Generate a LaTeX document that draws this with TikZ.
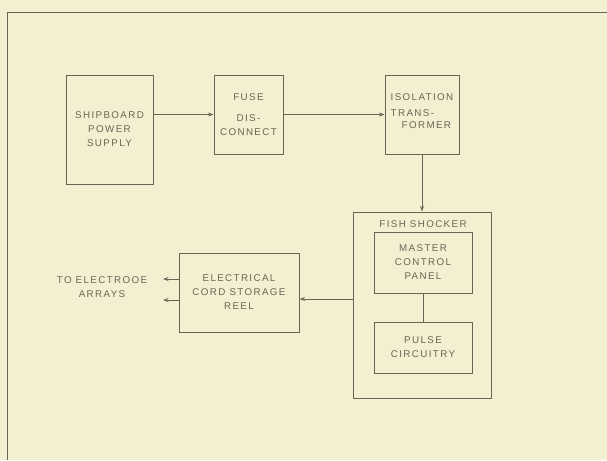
\documentclass[tikz,border=0pt]{standalone}
\usepackage{fontspec}
\setmainfont{Liberation Sans}[LetterSpace=14]
\usepackage{xcolor}
\usepackage{tikz}
\usetikzlibrary{
    arrows.meta,
    positioning,
    calc
}
\definecolor{paper}{HTML}{F3EFD1}
\definecolor{ink}{HTML}{676757}

\begin{document}
\begin{tikzpicture}[x=1pt,y=-1pt,
    blk/.style={draw=ink,line width=1pt,inner sep=0pt,align=center,
                text=ink,font=\fontsize{9.8}{14}\selectfont},
    lbl/.style={text=ink,align=center,inner sep=0pt,font=\fontsize{9.8}{14}\selectfont},
    wire/.style={draw=ink,line width=1pt},
    feed/.style={wire,-{Stealth[length=5.5pt,width=4pt]}}]
  % paper and frame
  \fill[paper] (0,0) rectangle (607,460);
  \useasboundingbox (0,0) rectangle (607,460);
  \draw[wire] (7,460) -- (7,13) -- (607,13);
  % top row
  \node[blk,minimum width=87pt,minimum height=109pt] (ship) at (109.5,129.5)
       {SHIPBOARD\\POWER\\SUPPLY};
  \node[blk,minimum width=69pt,minimum height=79pt] (fuse) at (248.5,114.5)
       {FUSE\\[7pt]DIS-\\CONNECT};
  \node[blk,minimum width=74pt,minimum height=79pt,align=left] (iso) at (422,114.5)
       {ISOLATION\\[2pt]TRANS-\\[-2pt]\hspace*{11pt}FORMER\\[-7pt]\mbox{}};
  % fish shocker
  \node[blk,minimum width=138pt,minimum height=186pt] (shock) at (422,305) {};
  \node[lbl] (shocklbl) at (423,224) {FISH SHOCKER};
  \node[blk,minimum width=98pt,minimum height=61pt] (master) at (423,262.5)
       {MASTER\\CONTROL\\PANEL};
  \node[blk,minimum width=98pt,minimum height=51pt] (pulse) at (423,347.5)
       {PULSE\\CIRCUITRY};
  % reel and outputs
  \node[blk,minimum width=120pt,minimum height=79pt] (reel) at (239,292.5)
       {ELECTRICAL\\CORD STORAGE\\REEL};
  \node[lbl] (arrays) at (102,287) {TO ELECTROOE\\ARRAYS};
  \coordinate (outa) at (163,279);
  \coordinate (outb) at (163,300);
  % connections
  \draw[feed] (ship.east |- fuse.west) -- (fuse.west);
  \draw[feed] (fuse.east) -- (iso.west |- fuse.east);
  \draw[feed] (iso.south) -- (shock.north -| iso.south);
  \draw[wire] (master.south) -- (pulse.north);
  \draw[feed] ([yshift=-6.5pt]shock.west |- reel.east) -- ([yshift=-6.5pt]reel.east);
  \draw[feed] ([yshift=13.5pt]reel.west) -- (outa);
  \draw[feed] ([yshift=-7.5pt]reel.west) -- (outb);
\end{tikzpicture}
\end{document}
